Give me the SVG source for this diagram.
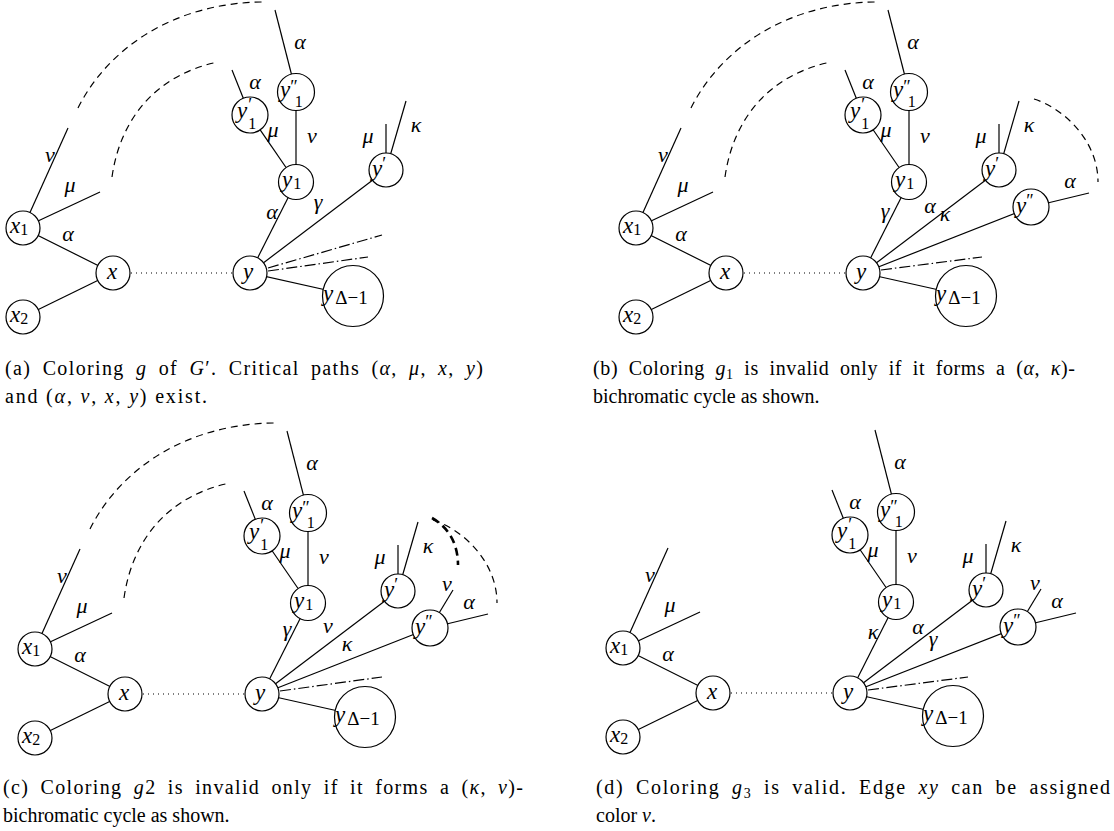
<svg xmlns="http://www.w3.org/2000/svg" width="1114" height="831" viewBox="0 0 1114 831">
<style>
.e{stroke:#000;stroke-width:1.2;fill:none}
.n{fill:#fff;stroke:#000;stroke-width:1.2}
.dash{stroke-dasharray:7 5}
.thick{stroke-width:2.6;stroke-dasharray:8 5}
.dot{stroke-dasharray:1 4}
.dd{stroke-dasharray:11 3 1.5 3}
.t{font-family:"Liberation Serif","DejaVu Serif",serif;font-style:italic;font-size:23px;fill:#000}
.l{font-family:"Liberation Serif","DejaVu Serif",serif;font-style:italic;font-size:22px;fill:#000;text-anchor:middle}
.s{font-style:normal;font-size:16px}
.p{font-style:normal;font-size:18px}
.c{font-family:"Liberation Serif","DejaVu Serif",serif;font-size:20px;fill:#000}
.j{word-spacing:5px}
.i{font-style:italic}
</style>

<!-- ================= Panel (a) ================= -->
<g id="panel-a">
<g id="a-connectors">
<path class="e dash" d="M78,108 C108,48 175,2 265,2"/>
<path class="e dash" d="M112,177 C120,120 155,75 218,62"/>
<line class="e" x1="23" y1="228" x2="68" y2="128"/>
<line class="e" x1="23" y1="228" x2="100" y2="192"/>
<line class="e" x1="23" y1="228" x2="113" y2="273"/>
<line class="e" x1="23" y1="317" x2="113" y2="273"/>
<line class="e dot" x1="131" y1="273" x2="233" y2="273"/>
<line class="e" x1="296" y1="92" x2="275" y2="10"/>
<line class="e" x1="250" y1="115" x2="232" y2="70"/>
<line class="e" x1="250" y1="115" x2="296" y2="182"/>
<line class="e" x1="296" y1="92" x2="296" y2="182"/>
<line class="e" x1="296" y1="182" x2="250" y2="273"/>
<line class="e" x1="250" y1="273" x2="386" y2="170"/>
<line class="e" x1="386" y1="170" x2="386" y2="124"/>
<line class="e" x1="386" y1="170" x2="406" y2="101"/>
<line class="e dd" x1="268" y1="268" x2="382" y2="235"/>
<line class="e dd" x1="268" y1="271" x2="368" y2="257"/>
<line class="e" x1="250" y1="273" x2="353" y2="296"/>
<text class="l" x="50" y="162">ν</text>
<text class="l" x="70" y="192">μ</text>
<text class="l" x="68" y="241">α</text>
<text class="l" x="300" y="49">α</text>
<text class="l" x="255" y="89">α</text>
<text class="l" x="273" y="137">μ</text>
<text class="l" x="312" y="143">ν</text>
<text class="l" x="368" y="143">μ</text>
<text class="l" x="416" y="132">κ</text>
<text class="l" x="272" y="219">α</text>
<text class="l" x="318" y="209">γ</text>
</g>
<g id="a-x1"><circle class="n" cx="23" cy="228" r="17"/><text class="t" x="10" y="233">x<tspan class="s" dy="2">1</tspan></text></g>
<g id="a-x2"><circle class="n" cx="23" cy="317" r="17"/><text class="t" x="10" y="322">x<tspan class="s" dy="2">2</tspan></text></g>
<g id="a-x"><circle class="n" cx="113" cy="273" r="17"/><text class="t" x="107" y="279">x</text></g>
<g id="a-y"><circle class="n" cx="250" cy="273" r="17"/><text class="t" x="243" y="279">y</text></g>
<g id="a-y1"><circle class="n" cx="296" cy="182" r="17.5"/><text class="t" x="282" y="187">y<tspan class="s" dx="1" dy="2">1</tspan></text></g>
<g id="a-y1p"><circle class="n" cx="250" cy="115" r="18"/><text class="t" x="237" y="118">y<tspan class="p" dx="1" dy="-7">′</tspan><tspan class="s" dx="-4" dy="18">1</tspan></text></g>
<g id="a-y1pp"><circle class="n" cx="296" cy="92" r="18.5"/><text class="t" x="280" y="97">y<tspan class="p" dy="-4">″</tspan><tspan class="s" dx="-3" dy="14">1</tspan></text></g>
<g id="a-yp"><circle class="n" cx="386" cy="170" r="17"/><text class="t" x="372" y="176">y<tspan class="p" dy="-6">′</tspan></text></g>
<g id="a-yD"><circle class="n" cx="353" cy="296" r="30.5"/><text class="t" x="323" y="301">y<tspan class="s" style="font-size:19px" dx="2" dy="3">Δ−1</tspan></text></g>
</g>

<!-- ================= Panel (b) ================= -->
<g id="panel-b" transform="translate(613,0)">
<g id="b-connectors">
<path class="e dash" d="M78,108 C108,48 175,2 265,2"/>
<path class="e dash" d="M112,177 C120,120 155,75 218,62"/>
<path class="e dash" d="M421,99 C450,108 485,140 485,182"/>
<line class="e" x1="23" y1="228" x2="68" y2="128"/>
<line class="e" x1="23" y1="228" x2="100" y2="192"/>
<line class="e" x1="23" y1="228" x2="113" y2="273"/>
<line class="e" x1="23" y1="317" x2="113" y2="273"/>
<line class="e dot" x1="131" y1="273" x2="233" y2="273"/>
<line class="e" x1="296" y1="92" x2="275" y2="10"/>
<line class="e" x1="250" y1="115" x2="232" y2="70"/>
<line class="e" x1="250" y1="115" x2="296" y2="182"/>
<line class="e" x1="296" y1="92" x2="296" y2="182"/>
<line class="e" x1="296" y1="182" x2="250" y2="273"/>
<line class="e" x1="250" y1="273" x2="386" y2="170"/>
<line class="e" x1="250" y1="273" x2="418" y2="207"/>
<line class="e" x1="386" y1="170" x2="386" y2="124"/>
<line class="e" x1="386" y1="170" x2="406" y2="101"/>
<line class="e" x1="418" y1="207" x2="476" y2="193"/>
<line class="e dd" x1="268" y1="270" x2="369" y2="257"/>
<line class="e" x1="250" y1="273" x2="353" y2="296"/>
<text class="l" x="50" y="162">ν</text>
<text class="l" x="70" y="192">μ</text>
<text class="l" x="68" y="241">α</text>
<text class="l" x="300" y="49">α</text>
<text class="l" x="255" y="89">α</text>
<text class="l" x="273" y="137">μ</text>
<text class="l" x="312" y="143">ν</text>
<text class="l" x="368" y="143">μ</text>
<text class="l" x="416" y="132">κ</text>
<text class="l" x="272" y="218">γ</text>
<text class="l" x="317" y="213">α</text>
<text class="l" x="332" y="221">κ</text>
<text class="l" x="457" y="188">α</text>
</g>
<g id="b-x1"><circle class="n" cx="23" cy="228" r="17"/><text class="t" x="10" y="233">x<tspan class="s" dy="2">1</tspan></text></g>
<g id="b-x2"><circle class="n" cx="23" cy="317" r="17"/><text class="t" x="10" y="322">x<tspan class="s" dy="2">2</tspan></text></g>
<g id="b-x"><circle class="n" cx="113" cy="273" r="17"/><text class="t" x="107" y="279">x</text></g>
<g id="b-y"><circle class="n" cx="250" cy="273" r="17"/><text class="t" x="243" y="279">y</text></g>
<g id="b-y1"><circle class="n" cx="296" cy="182" r="17.5"/><text class="t" x="282" y="187">y<tspan class="s" dx="1" dy="2">1</tspan></text></g>
<g id="b-y1p"><circle class="n" cx="250" cy="115" r="18"/><text class="t" x="237" y="118">y<tspan class="p" dx="1" dy="-7">′</tspan><tspan class="s" dx="-4" dy="18">1</tspan></text></g>
<g id="b-y1pp"><circle class="n" cx="296" cy="92" r="18.5"/><text class="t" x="280" y="97">y<tspan class="p" dy="-4">″</tspan><tspan class="s" dx="-3" dy="14">1</tspan></text></g>
<g id="b-yp"><circle class="n" cx="386" cy="170" r="17"/><text class="t" x="372" y="176">y<tspan class="p" dy="-6">′</tspan></text></g>
<g id="b-ypp"><circle class="n" cx="418" cy="207" r="18"/><text class="t" x="403" y="213">y<tspan class="p" dy="-6">″</tspan></text></g>
<g id="b-yD"><circle class="n" cx="353" cy="296" r="30.5"/><text class="t" x="323" y="301">y<tspan class="s" style="font-size:19px" dx="2" dy="3">Δ−1</tspan></text></g>
</g>

<!-- ================= Panel (c) ================= -->
<g id="panel-c" transform="translate(12,421)">
<g id="c-connectors">
<path class="e dash" d="M78,108 C108,48 175,2 265,2"/>
<path class="e dash" d="M112,177 C120,120 155,75 218,62"/>
<path class="e dash" d="M421,99 C450,108 485,140 485,182"/>
<path class="e thick" d="M420,97 C436,106 446,122 446,144"/>
<line class="e" x1="23" y1="228" x2="68" y2="128"/>
<line class="e" x1="23" y1="228" x2="100" y2="192"/>
<line class="e" x1="23" y1="228" x2="113" y2="273"/>
<line class="e" x1="23" y1="317" x2="113" y2="273"/>
<line class="e dot" x1="131" y1="273" x2="233" y2="273"/>
<line class="e" x1="296" y1="92" x2="275" y2="10"/>
<line class="e" x1="250" y1="115" x2="232" y2="70"/>
<line class="e" x1="250" y1="115" x2="296" y2="182"/>
<line class="e" x1="296" y1="92" x2="296" y2="182"/>
<line class="e" x1="296" y1="182" x2="250" y2="273"/>
<line class="e" x1="250" y1="273" x2="386" y2="170"/>
<line class="e" x1="250" y1="273" x2="418" y2="207"/>
<line class="e" x1="386" y1="170" x2="386" y2="124"/>
<line class="e" x1="386" y1="170" x2="406" y2="101"/>
<line class="e" x1="418" y1="207" x2="441" y2="169"/>
<line class="e" x1="418" y1="207" x2="476" y2="193"/>
<line class="e dd" x1="268" y1="270" x2="370" y2="256"/>
<line class="e" x1="250" y1="273" x2="353" y2="296"/>
<text class="l" x="50" y="162">ν</text>
<text class="l" x="70" y="192">μ</text>
<text class="l" x="68" y="241">α</text>
<text class="l" x="300" y="49">α</text>
<text class="l" x="255" y="89">α</text>
<text class="l" x="273" y="137">μ</text>
<text class="l" x="312" y="143">ν</text>
<text class="l" x="368" y="143">μ</text>
<text class="l" x="416" y="132">κ</text>
<text class="l" x="275" y="215">γ</text>
<text class="l" x="316" y="212">ν</text>
<text class="l" x="335" y="230">κ</text>
<text class="l" x="435" y="170">ν</text>
<text class="l" x="457" y="188">α</text>
</g>
<g id="c-x1"><circle class="n" cx="23" cy="228" r="17"/><text class="t" x="10" y="233">x<tspan class="s" dy="2">1</tspan></text></g>
<g id="c-x2"><circle class="n" cx="23" cy="317" r="17"/><text class="t" x="10" y="322">x<tspan class="s" dy="2">2</tspan></text></g>
<g id="c-x"><circle class="n" cx="113" cy="273" r="17"/><text class="t" x="107" y="279">x</text></g>
<g id="c-y"><circle class="n" cx="250" cy="273" r="17"/><text class="t" x="243" y="279">y</text></g>
<g id="c-y1"><circle class="n" cx="296" cy="182" r="17.5"/><text class="t" x="282" y="187">y<tspan class="s" dx="1" dy="2">1</tspan></text></g>
<g id="c-y1p"><circle class="n" cx="250" cy="115" r="18"/><text class="t" x="237" y="118">y<tspan class="p" dx="1" dy="-7">′</tspan><tspan class="s" dx="-4" dy="18">1</tspan></text></g>
<g id="c-y1pp"><circle class="n" cx="296" cy="92" r="18.5"/><text class="t" x="280" y="97">y<tspan class="p" dy="-4">″</tspan><tspan class="s" dx="-3" dy="14">1</tspan></text></g>
<g id="c-yp"><circle class="n" cx="386" cy="170" r="17"/><text class="t" x="372" y="176">y<tspan class="p" dy="-6">′</tspan></text></g>
<g id="c-ypp"><circle class="n" cx="418" cy="207" r="18"/><text class="t" x="403" y="213">y<tspan class="p" dy="-6">″</tspan></text></g>
<g id="c-yD"><circle class="n" cx="353" cy="296" r="30.5"/><text class="t" x="323" y="301">y<tspan class="s" style="font-size:19px" dx="2" dy="3">Δ−1</tspan></text></g>
</g>

<!-- ================= Panel (d) ================= -->
<g id="panel-d" transform="translate(600,420)">
<g id="d-connectors">
<line class="e" x1="23" y1="228" x2="68" y2="128"/>
<line class="e" x1="23" y1="228" x2="100" y2="192"/>
<line class="e" x1="23" y1="228" x2="113" y2="273"/>
<line class="e" x1="23" y1="317" x2="113" y2="273"/>
<line class="e dot" x1="131" y1="273" x2="233" y2="273"/>
<line class="e" x1="296" y1="92" x2="275" y2="10"/>
<line class="e" x1="250" y1="115" x2="232" y2="70"/>
<line class="e" x1="250" y1="115" x2="296" y2="182"/>
<line class="e" x1="296" y1="92" x2="296" y2="182"/>
<line class="e" x1="296" y1="182" x2="250" y2="273"/>
<line class="e" x1="250" y1="273" x2="386" y2="170"/>
<line class="e" x1="250" y1="273" x2="418" y2="207"/>
<line class="e" x1="386" y1="170" x2="386" y2="124"/>
<line class="e" x1="386" y1="170" x2="406" y2="101"/>
<line class="e" x1="418" y1="207" x2="441" y2="169"/>
<line class="e" x1="418" y1="207" x2="476" y2="193"/>
<line class="e dd" x1="268" y1="270" x2="368" y2="257"/>
<line class="e" x1="250" y1="273" x2="353" y2="296"/>
<text class="l" x="50" y="162">ν</text>
<text class="l" x="70" y="192">μ</text>
<text class="l" x="68" y="241">α</text>
<text class="l" x="300" y="49">α</text>
<text class="l" x="255" y="89">α</text>
<text class="l" x="273" y="137">μ</text>
<text class="l" x="312" y="143">ν</text>
<text class="l" x="368" y="143">μ</text>
<text class="l" x="416" y="132">κ</text>
<text class="l" x="273" y="219">κ</text>
<text class="l" x="318" y="214">α</text>
<text class="l" x="333" y="226">γ</text>
<text class="l" x="435" y="170">ν</text>
<text class="l" x="457" y="188">α</text>
</g>
<g id="d-x1"><circle class="n" cx="23" cy="228" r="17"/><text class="t" x="10" y="233">x<tspan class="s" dy="2">1</tspan></text></g>
<g id="d-x2"><circle class="n" cx="23" cy="317" r="17"/><text class="t" x="10" y="322">x<tspan class="s" dy="2">2</tspan></text></g>
<g id="d-x"><circle class="n" cx="113" cy="273" r="17"/><text class="t" x="107" y="279">x</text></g>
<g id="d-y"><circle class="n" cx="250" cy="273" r="17"/><text class="t" x="243" y="279">y</text></g>
<g id="d-y1"><circle class="n" cx="296" cy="182" r="17.5"/><text class="t" x="282" y="187">y<tspan class="s" dx="1" dy="2">1</tspan></text></g>
<g id="d-y1p"><circle class="n" cx="250" cy="115" r="18"/><text class="t" x="237" y="118">y<tspan class="p" dx="1" dy="-7">′</tspan><tspan class="s" dx="-4" dy="18">1</tspan></text></g>
<g id="d-y1pp"><circle class="n" cx="296" cy="92" r="18.5"/><text class="t" x="280" y="97">y<tspan class="p" dy="-4">″</tspan><tspan class="s" dx="-3" dy="14">1</tspan></text></g>
<g id="d-yp"><circle class="n" cx="386" cy="170" r="17"/><text class="t" x="372" y="176">y<tspan class="p" dy="-6">′</tspan></text></g>
<g id="d-ypp"><circle class="n" cx="418" cy="207" r="18"/><text class="t" x="403" y="213">y<tspan class="p" dy="-6">″</tspan></text></g>
<g id="d-yD"><circle class="n" cx="353" cy="296" r="30.5"/><text class="t" x="323" y="301">y<tspan class="s" style="font-size:19px" dx="2" dy="3">Δ−1</tspan></text></g>
</g>

<!-- ================= Captions ================= -->
<g id="captions">
<text class="c j" x="5" y="375" textLength="478" lengthAdjust="spacing">(a) Coloring <tspan class="i">g</tspan> of <tspan class="i">G</tspan>′. Critical paths (<tspan class="i">α</tspan>, <tspan class="i">μ</tspan>, <tspan class="i">x</tspan>, <tspan class="i">y</tspan>)</text>
<text class="c" x="5" y="403" textLength="202" lengthAdjust="spacing">and (<tspan class="i">α</tspan>, <tspan class="i">ν</tspan>, <tspan class="i">x</tspan>, <tspan class="i">y</tspan>) exist.</text>
<text class="c j" x="593" y="375" textLength="482" lengthAdjust="spacing">(b) Coloring <tspan class="i">g</tspan><tspan style="font-size:14px" dy="4">1</tspan><tspan dy="-4"> is invalid only if it forms a (</tspan><tspan class="i">α</tspan>, <tspan class="i">κ</tspan>)-</text>
<text class="c" x="593" y="403">bichromatic cycle as shown.</text>
<text class="c j" x="3" y="794" textLength="520" lengthAdjust="spacing">(c) Coloring <tspan class="i">g</tspan>2 is invalid only if it forms a (<tspan class="i">κ</tspan>, <tspan class="i">ν</tspan>)-</text>
<text class="c" x="3" y="822">bichromatic cycle as shown.</text>
<text class="c j" x="596" y="794" textLength="514" lengthAdjust="spacing">(d) Coloring <tspan class="i">g</tspan><tspan style="font-size:14px" dy="4">3</tspan><tspan dy="-4"> is valid. Edge </tspan><tspan class="i">xy</tspan> can be assigned</text>
<text class="c" x="596" y="822">color <tspan class="i">ν</tspan>.</text>
</g>
</svg>
